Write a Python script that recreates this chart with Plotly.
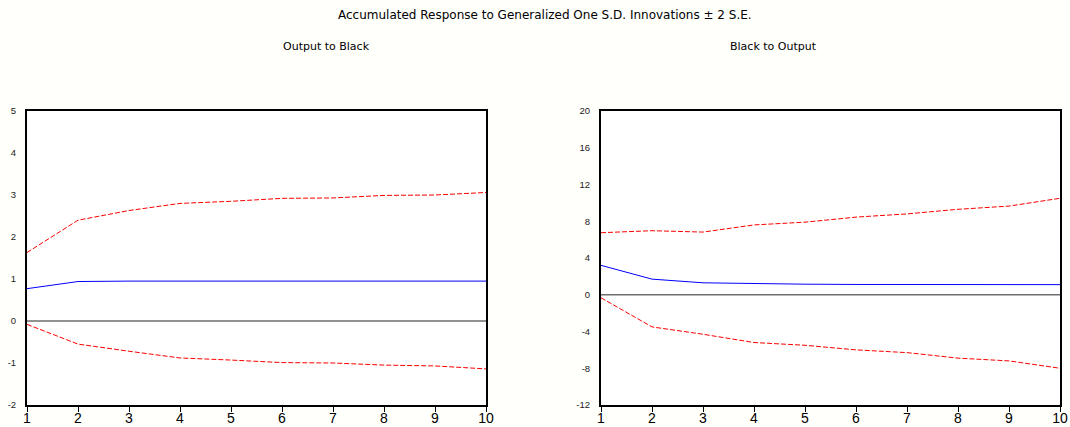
import plotly.graph_objects as go

periods = [1, 2, 3, 4, 5, 6, 7, 8, 9, 10]

# Output to Black
ob_resp = [0.77, 0.94, 0.95, 0.95, 0.95, 0.95, 0.95, 0.95, 0.95, 0.95]
ob_upper = [1.63, 2.40, 2.63, 2.80, 2.85, 2.92, 2.93, 2.99, 3.00, 3.06]
ob_lower = [-0.08, -0.55, -0.72, -0.88, -0.93, -0.99, -1.00, -1.05, -1.07, -1.14]

# Black to Output
bo_resp = [3.2, 1.7, 1.3, 1.2, 1.15, 1.12, 1.1, 1.1, 1.1, 1.1]
bo_upper = [6.75, 6.97, 6.82, 7.6, 7.9, 8.45, 8.8, 9.3, 9.65, 10.5]
bo_lower = [-0.33, -3.5, -4.3, -5.2, -5.5, -6.0, -6.3, -6.9, -7.2, -8.0]

left_yticks = [-2, -1, 0, 1, 2, 3, 4, 5]
right_yticks = [-12, -8, -4, 0, 4, 8, 12, 16, 20]

title = "Accumulated Response to Generalized One S.D. Innovations \u00b1 2 S.E."
sub_left = "Output to Black"
sub_right = "Black to Output"

fig = go.Figure()

def add_panel(xa, ya, resp, up, lo):
    fig.add_trace(go.Scatter(x=periods, y=[0] * len(periods), xaxis=xa, yaxis=ya, mode="lines",
                             line=dict(color="#6e6e6e", width=1.3), showlegend=False, hoverinfo="skip"))
    fig.add_trace(go.Scatter(x=periods, y=up, xaxis=xa, yaxis=ya, mode="lines",
                             line=dict(color="#ff0000", width=1, dash="5px,2px"), showlegend=False))
    fig.add_trace(go.Scatter(x=periods, y=lo, xaxis=xa, yaxis=ya, mode="lines",
                             line=dict(color="#ff0000", width=1, dash="5px,2px"), showlegend=False))
    fig.add_trace(go.Scatter(x=periods, y=resp, xaxis=xa, yaxis=ya, mode="lines",
                             line=dict(color="#0000ff", width=1), showlegend=False))

add_panel("x", "y", ob_resp, ob_upper, ob_lower)
add_panel("x2", "y2", bo_resp, bo_upper, bo_lower)

font = "Liberation Sans, Arial, sans-serif"
tfont = "DejaVu Sans, Verdana, sans-serif"
xcommon = dict(range=[1, 10], tickvals=periods, ticktext=[str(p) for p in periods],
               ticks="outside", ticklen=5, tickwidth=1, tickcolor="black", automargin=False,
               showline=True, linecolor="black", linewidth=2, mirror=True, showgrid=False, zeroline=False,
               tickfont=dict(family=font, size=14, color="black"), ticklabelstandoff=-6)
ycommon = dict(ticks="", showline=True, linecolor="black", linewidth=2, mirror=True, showgrid=False,
               zeroline=False, automargin=False, tickfont=dict(family=font, size=9.5, color="#222222"),
               ticklabelstandoff=7)

L, R, T, B = 27, 10, 111, 22
W, H = 1070, 427
pw = W - L - R
d1 = (486 - L) / pw
d2 = (601 - L) / pw

fig.update_layout(
    width=W, height=H,
    margin=dict(l=L, r=R, t=T, b=B, autoexpand=False),
    paper_bgcolor="#fffffc", plot_bgcolor="#ffffff",
    xaxis=dict(domain=[0, d1], anchor="y", **xcommon),
    xaxis2=dict(domain=[d2, 1], anchor="y2", **xcommon),
    yaxis=dict(domain=[0, 1], anchor="x", range=[-2, 5], tickvals=left_yticks,
               ticktext=[str(v) for v in left_yticks], **ycommon),
    yaxis2=dict(domain=[0, 1], anchor="x2", range=[-12, 20], tickvals=right_yticks,
                ticktext=[str(v) for v in right_yticks], **ycommon),
    annotations=[
        dict(text=title, x=545, y=15, showarrow=False, font=dict(family=tfont, size=12, color="black")),
        dict(text=sub_left, x=326, y=46, showarrow=False, font=dict(family=tfont, size=11, color="black")),
        dict(text=sub_right, x=773, y=46, showarrow=False, font=dict(family=tfont, size=11, color="black")),
    ],
)

# convert pixel positions for annotations to paper coordinates
for a in fig.layout.annotations:
    a.x = (a.x - L) / pw
    a.y = 1 + (T - a.y) / (H - T - B)
    a.xref = "paper"
    a.yref = "paper"
    a.xanchor = "center"
    a.yanchor = "middle"

fig.write_html("out.html", config={"displayModeBar": False},
               post_script="document.body.style.margin='0';document.body.style.overflow='hidden';")
